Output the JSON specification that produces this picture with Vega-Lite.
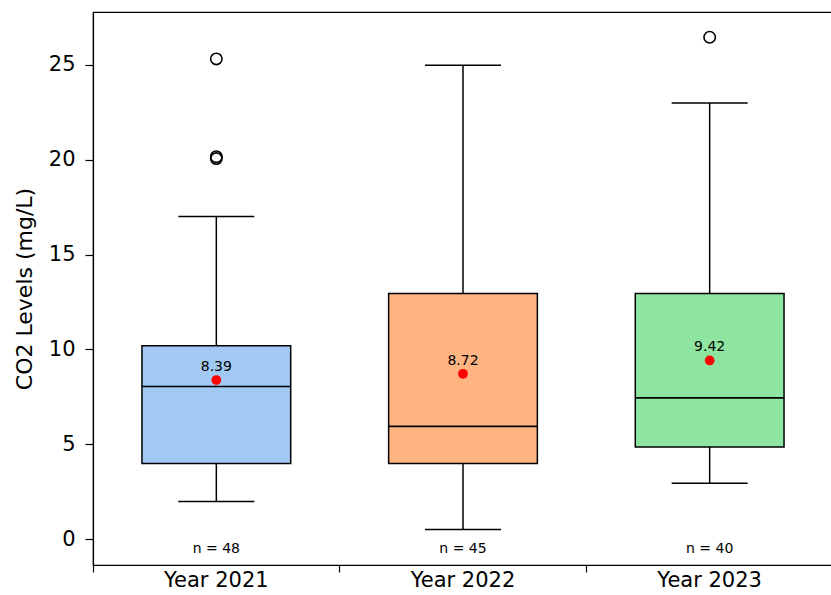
{
  "$schema": "https://vega.github.io/schema/vega-lite/v6.json",
  "width": 740,
  "height": 553,
  "autosize": {"type": "none"},
  "padding": {"left": 93, "top": 12, "right": 0, "bottom": 30},
  "background": "white",
  "config": {
    "font": "DejaVu Sans",
    "view": {"stroke": "black", "strokeWidth": 1.2},
    "axis": {"grid": false, "domainColor": "black", "tickColor": "black", "labelColor": "black", "titleColor": "black", "labelFont": "DejaVu Sans", "titleFont": "DejaVu Sans", "domainWidth": 1.2, "tickWidth": 1.2},
    "axisY": {"tickSize": 8, "labelPadding": 10, "labelFontSize": 21, "titleFontSize": 22, "titleFontWeight": "normal", "titlePadding": 12},
    "axisX": {"labelFontSize": 21, "labelAngle": 0}
  },
  "datasets": {
    "stats": [
      {"year": "Year 2021", "low": 2.0, "q1": 4.0, "median": 8.05, "q3": 10.2, "high": 17.0, "mean": 8.39, "nlabel": "n = 48"},
      {"year": "Year 2022", "low": 0.52, "q1": 4.0, "median": 5.95, "q3": 12.95, "high": 24.97, "mean": 8.72, "nlabel": "n = 45"},
      {"year": "Year 2023", "low": 2.95, "q1": 4.87, "median": 7.45, "q3": 12.95, "high": 22.98, "mean": 9.42, "nlabel": "n = 40"}
    ],
    "outliers": [
      {"year": "Year 2021", "value": 25.3},
      {"year": "Year 2021", "value": 20.15},
      {"year": "Year 2021", "value": 20.05},
      {"year": "Year 2023", "value": 26.44}
    ]
  },
  "resolve": {"axis": {"x": "independent"}},
  "layer": [
    {
      "data": {"name": "stats"},
      "mark": {"type": "rule", "color": "black", "strokeWidth": 1.5},
      "encoding": {
        "x": {"field": "year", "type": "nominal", "scale": {"paddingInner": 0, "paddingOuter": 0}, "axis": {"orient": "bottom", "title": null, "ticks": false, "domain": false, "labelPadding": 4}},
        "y": {"field": "low", "type": "quantitative", "title": "CO2 Levels (mg/L)", "scale": {"domain": [-1.35, 27.77], "nice": false, "zero": false}, "axis": {"values": [0, 5, 10, 15, 20, 25]}},
        "y2": {"field": "q1"}
      }
    },
    {
      "data": {"name": "stats"},
      "mark": {"type": "rule", "color": "black", "strokeWidth": 1.5},
      "encoding": {
        "x": {"field": "year", "type": "nominal", "axis": null},
        "y": {"field": "q3", "type": "quantitative", "title": "CO2 Levels (mg/L)"},
        "y2": {"field": "high"}
      }
    },
    {
      "data": {"name": "stats"},
      "mark": {"type": "tick", "color": "black", "size": 76, "thickness": 1.5, "opacity": 1},
      "encoding": {
        "x": {"field": "year", "type": "nominal", "axis": null},
        "y": {"field": "low", "type": "quantitative", "title": "CO2 Levels (mg/L)"}
      }
    },
    {
      "data": {"name": "stats"},
      "mark": {"type": "tick", "color": "black", "size": 76, "thickness": 1.5, "opacity": 1},
      "encoding": {
        "x": {"field": "year", "type": "nominal", "axis": null},
        "y": {"field": "high", "type": "quantitative", "title": "CO2 Levels (mg/L)"}
      }
    },
    {
      "data": {"name": "stats"},
      "mark": {"type": "bar", "width": {"band": 0.603}, "stroke": "black", "strokeWidth": 1.5, "opacity": 1},
      "encoding": {
        "x": {"field": "year", "type": "nominal", "axis": null},
        "y": {"field": "q1", "type": "quantitative", "title": "CO2 Levels (mg/L)"},
        "y2": {"field": "q3"},
        "fill": {"field": "year", "type": "nominal", "scale": {"range": ["#a1c9f4", "#ffb482", "#8de5a1"]}, "legend": null}
      }
    },
    {
      "data": {"name": "stats"},
      "mark": {"type": "tick", "color": "black", "size": 149, "thickness": 1.6, "opacity": 1},
      "encoding": {
        "x": {"field": "year", "type": "nominal", "axis": null},
        "y": {"field": "median", "type": "quantitative", "title": "CO2 Levels (mg/L)"}
      }
    },
    {
      "data": {"name": "outliers"},
      "mark": {"type": "point", "shape": "circle", "filled": false, "stroke": "black", "strokeWidth": 1.6, "size": 130, "opacity": 1},
      "encoding": {
        "x": {"field": "year", "type": "nominal", "axis": null},
        "y": {"field": "value", "type": "quantitative", "title": "CO2 Levels (mg/L)"}
      }
    },
    {
      "data": {"name": "stats"},
      "mark": {"type": "circle", "color": "red", "size": 95, "opacity": 1},
      "encoding": {
        "x": {"field": "year", "type": "nominal", "axis": null},
        "y": {"field": "mean", "type": "quantitative", "title": "CO2 Levels (mg/L)"}
      }
    },
    {
      "data": {"name": "stats"},
      "mark": {"type": "text", "fontSize": 14, "color": "black", "baseline": "bottom", "dy": -6},
      "encoding": {
        "x": {"field": "year", "type": "nominal", "axis": null},
        "y": {"field": "mean", "type": "quantitative", "title": "CO2 Levels (mg/L)"},
        "text": {"field": "mean", "type": "quantitative", "format": ".2f"}
      }
    },
    {
      "data": {"name": "stats"},
      "mark": {"type": "text", "fontSize": 14, "color": "black", "baseline": "middle"},
      "encoding": {
        "x": {"field": "year", "type": "nominal", "axis": {"orient": "bottom", "title": null, "labels": false, "domain": true, "tickSize": 7, "bandPosition": 0}},
        "y": {"datum": -0.5, "type": "quantitative", "title": "CO2 Levels (mg/L)"},
        "text": {"field": "nlabel", "type": "nominal"}
      }
    }
  ]
}
